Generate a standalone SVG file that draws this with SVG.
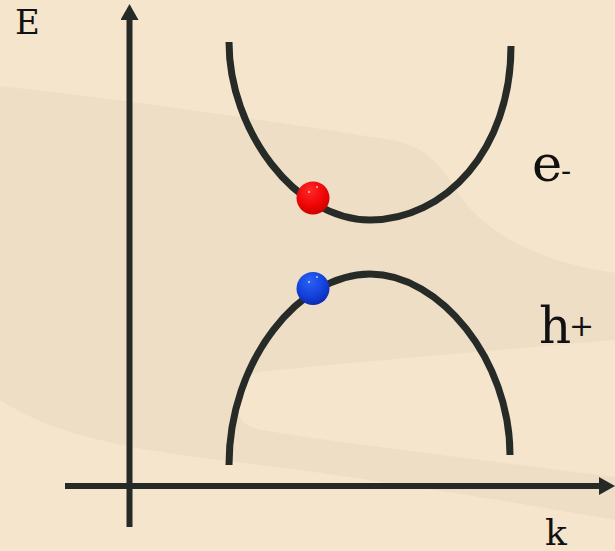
<svg xmlns="http://www.w3.org/2000/svg" width="615" height="551" viewBox="0 0 615 551">
  <style>
    .axis { stroke: #252a27; stroke-width: 6; fill: none; }
    .band { stroke: #262b28; stroke-width: 7; fill: none; }
    .lbl { font-family: "DejaVu Serif", "Liberation Serif", serif; fill: #111111; }
    .spec { fill: #ffffff; opacity: 0.75; }
  </style>
  <defs>
    <marker id="arrow" markerUnits="userSpaceOnUse" markerWidth="18" markerHeight="18" viewBox="0 0 18 18" refX="0" refY="9" orient="auto">
      <path d="M0,0 L16,9 L0,18 Z" fill="#252a27"/>
    </marker>
    <radialGradient id="redBall" cx="0.45" cy="0.35" r="0.7" fx="0.4" fy="0.25">
      <stop offset="0" stop-color="#ff2a2a"/>
      <stop offset="0.6" stop-color="#f00505"/>
      <stop offset="1" stop-color="#c60000"/>
    </radialGradient>
    <radialGradient id="blueBall" cx="0.45" cy="0.35" r="0.7" fx="0.4" fy="0.25">
      <stop offset="0" stop-color="#2a63f5"/>
      <stop offset="0.6" stop-color="#1442dc"/>
      <stop offset="1" stop-color="#0b27a8"/>
    </radialGradient>
  </defs>

  <g id="background">
    <rect x="0" y="0" width="615" height="551" fill="#f6e5cd"/>
    <path fill="#eedec5" d="M0,86 C130,100 300,125 392,140 C430,148 440,165 463,200 C490,235 540,262 615,273 L615,340 C500,350 330,364 260,372 C240,376 234,395 238,412 C241,424 250,427 262,430 C330,442 500,462 615,477 L615,520 C500,500 380,480 260,465 C150,452 60,440 0,400 Z"/>
  </g>

  <g id="connectors">
    <line id="axis-E" class="axis" x1="129.5" y1="527" x2="129.5" y2="20" marker-end="url(#arrow)"/>
    <line id="axis-k" class="axis" x1="65" y1="486" x2="599" y2="486" marker-end="url(#arrow)"/>
  </g>

  <g id="conduction-band">
    <path class="band" d="M229,42 C229,130 295,220 370,220 C445,220 511,150 511,46"/>
  </g>
  <g id="valence-band">
    <path class="band" d="M229,465 C229,360 300,274 370,274 C440,274 510,360 510,455"/>
  </g>

  <g id="electron">
    <circle cx="313" cy="198" r="16.5" fill="url(#redBall)"/>
    <circle class="spec" cx="309" cy="192" r="1"/>
    <circle class="spec" cx="317" cy="187" r="1"/>
  </g>
  <g id="hole">
    <circle cx="313" cy="288.5" r="16.5" fill="url(#blueBall)"/>
    <circle class="spec" cx="309" cy="282" r="1"/>
    <circle class="spec" cx="317" cy="277" r="1"/>
  </g>

  <g id="label-E"><text class="lbl" x="15" y="34" font-size="34">E</text></g>
  <g id="label-k"><text class="lbl" x="545" y="545" font-size="36">k</text></g>
  <g id="label-e"><text class="lbl" x="532" y="181" font-size="51">e<tspan font-size="30" x="561" y="181">-</tspan></text></g>
  <g id="label-h"><text class="lbl" x="539" y="343" font-size="50">h<tspan font-size="30" x="569" y="336">+</tspan></text></g>
</svg>
